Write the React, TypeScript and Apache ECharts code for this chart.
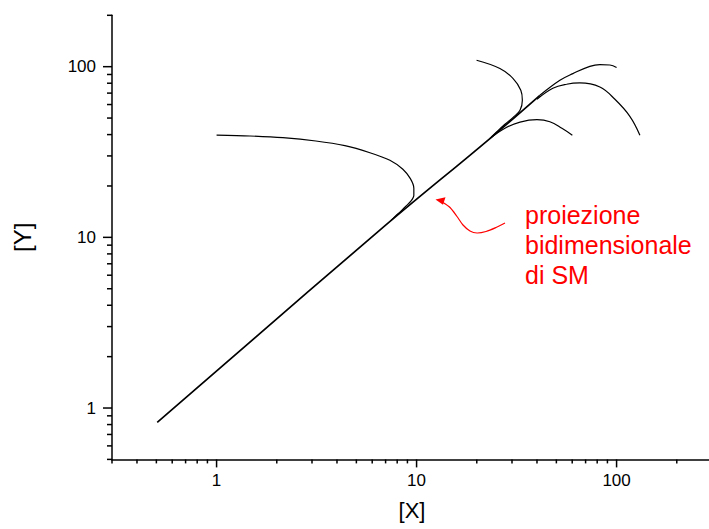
import React, { useEffect, useRef } from "react";
import * as echarts from "echarts";

// ---- tick values ----
const xMajorTicks = [1, 10, 100];
const xMinorTicks = [0.3, 0.4, 0.5, 0.6, 0.7, 0.8, 0.9, 2, 3, 4, 5, 6, 7, 8, 9, 20, 30, 40, 50, 60, 70, 80, 90, 200];
const yMajorTicks = [1, 10, 100];
const yMinorTicks = [0.5, 0.6, 0.7, 0.8, 0.9, 2, 3, 4, 5, 6, 7, 8, 9, 20, 30, 40, 50, 60, 70, 80, 90, 200];

// ---- curves [x, y] ----
const smDiagonal = [[0.505, 0.825], [6.55, 11.02], [23.26, 37.93], [41.36, 68.0]];
const curveUpper = [[41.36, 68.0], [52.07, 83.24], [60.46, 91.1], [73.5, 100.5], [82.5, 102.9], [92.6, 102.3], [100, 98.8]];
const curveMiddle = [[40.0, 64.4], [48.0, 74.7], [56.2, 78.9], [65.5, 80.3], [82.5, 76.0], [98.1, 64.4], [116.5, 51.2], [130.8, 39.7]];
const curveLower = [[23.26, 37.93], [27.65, 43.6], [32.9, 47.3], [40.0, 48.9], [46.4, 47.6], [53.3, 43.6], [60.1, 39.7]];
const curveHook = [[19.95, 109.0], [26.1, 97.5], [30.4, 85.2], [33.2, 72.8], [33.8, 63.6], [32.9, 55.6], [30.4, 50.5], [27.65, 46.0], [25.2, 41.6], [23.6, 38.6]];
const curveLeft = [[1.0, 39.7], [1.468, 39.25], [2.146, 38.35], [3.136, 36.68], [4.38, 34.43], [5.843, 31.32], [7.355, 28.31], [8.54, 25.07], [9.31, 22.07], [9.69, 19.42], [9.69, 17.67], [9.365, 16.29], [8.84, 15.23], [8.35, 14.23], [7.88, 13.4], [7.44, 12.52]];

const X_MIN = 0.3, X_MAX = 300, Y_MIN = 0.5, Y_MAX = 200;
const FONT = "'Liberation Sans', Arial, Helvetica, sans-serif";

export default function App() {
  const ref = useRef<HTMLDivElement>(null);
  useEffect(() => {
    if (!ref.current) return;
    const chart = echarts.init(ref.current, null, { renderer: "svg" });
    const isPow10 = (v: number) => {
      const l = Math.log10(v);
      return Math.abs(l - Math.round(l)) < 1e-6;
    };
    const lineSeries = (data: number[][], width: number, smooth = 0.4) => ({
      type: "line",
      data,
      showSymbol: false,
      symbol: "none",
      smooth,
      lineStyle: { color: "#000", width },
      silent: true,
      z: 3,
    });
    const xTickData = [
      ...xMajorTicks.map((v) => [v, Y_MIN, 8]),
      ...xMinorTicks.map((v) => [v, Y_MIN, 4]),
    ];
    const yTickData = [
      ...yMajorTicks.map((v) => [X_MIN, v, 9]),
      ...yMinorTicks.map((v) => [X_MIN, v, 5]),
    ];
    chart.setOption({
      animation: false,
      backgroundColor: "#fff",
      textStyle: { fontFamily: FONT },
      grid: { left: 112, top: 15.3, width: 600, height: 444.1, containLabel: false, outerBoundsMode: "none" },
      xAxis: {
        type: "log",
        logBase: 10,
        min: X_MIN,
        max: X_MAX,
        name: "[X]",
        nameLocation: "middle",
        nameGap: 40,
        nameTextStyle: { fontSize: 22, color: "#000", fontFamily: FONT },
        axisLine: { show: true, lineStyle: { color: "#000", width: 1.5 } },
        axisTick: { show: false },
        minorTick: { show: false },
        splitLine: { show: false },
        axisLabel: {
          fontSize: 17,
          color: "#000",
          margin: 13,
          fontFamily: FONT,
          formatter: (v: number) => (isPow10(v) ? String(Math.round(v)) : ""),
        },
      },
      yAxis: {
        type: "log",
        logBase: 10,
        min: Y_MIN,
        max: Y_MAX,
        name: "[Y]",
        nameLocation: "middle",
        nameGap: 78,
        nameTextStyle: { fontSize: 24, color: "#000", fontFamily: FONT },
        axisLine: { show: true, lineStyle: { color: "#000", width: 1.5 } },
        axisTick: { show: false },
        minorTick: { show: false },
        splitLine: { show: false },
        axisLabel: {
          fontSize: 17,
          color: "#000",
          margin: 16,
          fontFamily: FONT,
          formatter: (v: number) => (isPow10(v) ? String(Math.round(v)) : ""),
        },
      },
      series: [
        {
          type: "custom",
          data: xTickData,
          silent: true,
          clip: false,
          renderItem: (params: any, api: any) => {
            const p = api.coord([api.value(0), api.value(1)]);
            const len = api.value(2);
            return {
              type: "line",
              shape: { x1: p[0], y1: p[1], x2: p[0], y2: p[1] + len },
              style: { stroke: "#000", lineWidth: 1.5 },
            };
          },
        },
        {
          type: "custom",
          data: yTickData,
          silent: true,
          clip: false,
          renderItem: (params: any, api: any) => {
            const p = api.coord([api.value(0), api.value(1)]);
            const len = api.value(2);
            return {
              type: "line",
              shape: { x1: p[0] - len, y1: p[1], x2: p[0], y2: p[1] },
              style: { stroke: "#000", lineWidth: 1.5 },
            };
          },
        },
        lineSeries(smDiagonal, 1.7),
        lineSeries(curveUpper, 1.2),
        lineSeries(curveMiddle, 1.2),
        lineSeries(curveLower, 1.2),
        lineSeries(curveHook, 1.2),
        lineSeries(curveLeft, 1.2, 0.3),
      ],
      graphic: [
        {
          type: "polyline",
          shape: {
            points: [[505, 223], [496, 227.5], [486, 231.5], [477, 233], [470, 231], [463, 225], [457, 216.5], [450, 207.5], [443, 202.5]],
            smooth: 0.3,
          },
          style: { stroke: "#ff0000", lineWidth: 1.2, fill: null },
          silent: true,
        },
        {
          type: "polygon",
          shape: { points: [[435.5, 199.5], [445.5, 197.2], [443, 204.8]] },
          style: { fill: "#ff0000" },
          silent: true,
        },
        {
          type: "text",
          x: 525,
          y: 199.6,
          style: {
            text: "proiezione\nbidimensionale\ndi SM",
            fill: "#ff0000",
            font: `25px ${FONT}`,
            fontSize: 25,
            fontFamily: FONT,
            lineHeight: 30,
            align: "left",
            verticalAlign: "top",
          },
          silent: true,
        },
      ],
    });
    return () => chart.dispose();
  }, []);
  return (
    <div
      ref={ref}
      style={{ position: "absolute", left: 0, top: 0, width: 709, height: 529, background: "#fff" }}
    />
  );
}
